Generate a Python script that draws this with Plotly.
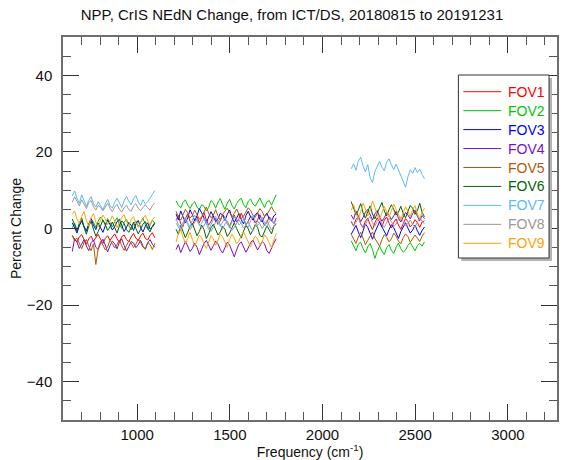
import numpy as np
import plotly.graph_objects as go

# CrIS spectral bands (cm^-1): LW, MW, SW
band_edges = {"LW": (650.0, 1095.0), "MW": (1210.0, 1750.0), "SW": (2155.0, 2550.0)}

fov_names = ["FOV1", "FOV2", "FOV3", "FOV4", "FOV5", "FOV6", "FOV7", "FOV8", "FOV9"]
fov_colors = ["#ff0000", "#00c800", "#0000ff", "#7a10c0", "#b35a00",
              "#006400", "#5cb8ff", "#999999", "#ffa500"]

# Percent change of NEdN per FOV, per band
lw = {
    "FOV1": [-1.8,-2.9,-3.5,-2.2,-1.6,-3.0,-4.1,-2.7,-2.0,-3.3,-2.4,-1.5,-2.8,-3.9,-2.6,-1.9,-3.1,-2.3,-1.4,-2.7,-3.6,-2.1,-1.7,-2.9,-3.4,-2.2,-1.3,-2.5,-3.2,-1.9,-1.2,-2.6,-3.0,-1.8,-1.1,-2.4],
    "FOV2": [0.2,1.4,-0.5,0.8,2.1,0.6,-0.8,1.2,2.5,1.7,0.3,1.9,3.0,2.2,0.9,2.6,1.5,0.4,1.8,2.8,1.1,0.0,1.6,2.4,0.7,-0.4,1.3,2.0,0.5,1.5,2.7,1.0,-0.2,0.9,2.2,1.4],
    "FOV3": [1.5,0.2,-1.2,0.8,2.0,0.4,-0.6,1.1,2.6,0.9,-0.3,1.4,0.1,-1.0,0.7,2.2,1.0,-0.4,0.5,1.8,2.4,0.6,-0.8,0.3,1.6,0.8,-0.5,1.2,2.1,0.2,-0.9,0.6,1.5,-0.2,0.4,1.3],
    "FOV4": [-6.0,-2.6,-3.5,-5.2,-4.1,-2.9,-4.6,-5.8,-3.7,-3.0,-4.9,-5.5,-3.9,-2.8,-4.3,-6.1,-4.5,-3.3,-4.0,-5.3,-3.6,-2.7,-4.4,-5.9,-4.7,-3.4,-3.8,-5.0,-4.2,-3.1,-4.6,-5.4,-3.8,-2.9,-4.1,-4.9],
    "FOV5": [-1.8,-3.2,-2.5,-4.1,-5.3,-3.6,-2.9,-4.6,-5.8,-4.0,-9.4,-5.2,-3.4,-4.3,-5.6,-4.8,-3.1,-3.9,-5.1,-4.2,-3.0,-4.5,-5.7,-4.4,-3.3,-3.8,-5.0,-4.1,-2.8,-3.7,-4.9,-5.4,-3.6,-4.2,-5.5,-3.9],
    "FOV6": [2.5,0.8,-0.6,1.4,2.8,0.3,-1.5,0.6,1.9,-0.2,-2.0,-0.8,0.9,2.2,1.1,-0.5,0.4,1.7,0.2,-1.2,0.7,2.0,1.3,-0.3,-1.0,0.5,1.6,0.0,-1.4,-0.2,1.2,1.8,0.1,-0.9,0.6,1.5],
    "FOV7": [8.5,9.8,7.9,6.6,8.8,7.2,5.8,7.4,8.3,6.5,5.6,7.0,6.1,4.9,6.4,7.6,6.0,5.3,6.8,7.9,6.7,5.5,7.2,8.4,7.1,6.2,7.8,8.6,6.9,6.0,7.5,6.4,7.0,8.1,8.9,9.9],
    "FOV8": [6.8,8.3,7.1,5.9,7.5,6.4,5.2,6.8,7.3,5.7,4.8,6.0,5.5,4.6,5.8,6.6,5.3,4.4,5.6,6.3,5.0,4.3,5.4,6.1,4.9,4.5,5.9,6.5,5.2,4.7,5.5,6.2,5.4,4.8,6.0,6.7],
    "FOV9": [3.8,4.6,2.5,1.3,3.2,4.4,2.1,0.6,2.8,3.9,1.7,0.4,2.2,3.5,2.6,1.0,1.9,3.3,2.0,0.2,1.5,2.9,3.6,1.8,0.7,2.4,3.1,1.4,0.3,1.6,2.7,3.4,1.9,0.8,2.3,3.0],
}
mw = {
    "FOV1": [2.1,3.4,1.2,0.5,2.6,3.8,1.9,0.8,2.4,3.1,1.5,2.9,4.2,2.2,0.9,1.8,3.3,2.5,1.1,2.0,3.7,2.8,1.3,0.6,2.3,3.5,1.7,2.6,4.0,2.4,1.0,1.9,3.2,2.7,1.4,2.2,3.6,2.0,0.8,1.6,3.0,2.5,1.2,2.8],
    "FOV2": [7.2,6.0,5.4,6.8,7.5,6.1,5.2,6.4,7.0,5.6,4.9,6.2,5.8,4.6,5.5,7.3,6.7,5.3,6.9,7.8,6.3,5.0,6.6,7.6,6.0,5.1,6.5,7.4,7.9,6.2,5.4,7.1,7.7,6.4,5.8,7.0,8.0,6.6,5.5,6.9,7.3,6.1,7.6,8.8],
    "FOV3": [3.8,2.2,4.6,3.1,1.5,2.8,4.9,3.6,2.0,3.3,5.2,4.1,2.6,1.4,3.0,4.4,3.2,1.8,2.5,4.0,3.5,2.1,3.7,4.8,2.9,1.6,2.7,3.9,2.3,1.2,3.4,4.5,3.0,2.2,3.6,4.2,2.4,1.7,3.1,4.0,2.6,1.9,3.3,3.8],
    "FOV4": [-5.5,-4.2,-6.3,-5.0,-3.4,-4.6,-6.0,-5.2,-3.8,-4.9,-6.8,-5.4,-3.9,-3.1,-4.4,-5.7,-4.5,-3.3,-4.0,-5.5,-6.4,-4.8,-3.6,-4.3,-5.9,-7.4,-5.6,-4.1,-3.5,-4.7,-6.2,-5.1,-3.7,-3.0,-4.2,-5.6,-4.6,-3.4,-4.0,-5.8,-6.5,-5.0,-3.8,-2.7],
    "FOV5": [4.5,3.0,2.2,3.8,5.0,4.1,2.7,3.4,4.8,3.6,2.4,3.1,4.4,5.6,4.0,2.8,3.5,4.9,3.3,2.1,3.7,4.6,5.3,4.2,3.0,3.9,5.1,3.8,2.6,3.2,4.3,5.4,4.7,3.5,2.9,4.0,5.2,4.4,3.1,3.6,4.8,5.7,4.5,3.9],
    "FOV6": [-0.2,-1.5,0.8,-0.6,-2.4,-1.0,0.5,1.3,-0.4,-1.9,-0.8,0.9,-0.3,-2.6,-1.4,0.2,1.1,-0.5,-1.7,-0.9,0.6,-0.2,-2.1,-1.2,0.4,1.5,0.0,-1.3,-2.5,-0.7,0.8,-0.1,-1.6,-0.4,1.0,0.3,-1.8,-2.2,-0.6,0.7,-0.3,-1.4,0.5,1.2],
    "FOV7": [2.5,1.0,0.2,1.8,3.0,1.6,0.4,2.2,3.5,2.0,0.8,1.4,2.7,1.2,-0.3,1.0,2.4,3.2,1.5,0.6,1.9,2.8,1.3,0.1,1.7,3.1,2.3,0.9,1.5,2.6,1.1,0.3,2.0,3.4,2.1,0.7,1.6,2.9,1.4,0.5,1.8,2.5,1.2,2.2],
    "FOV8": [1.4,0.2,-0.6,0.9,2.1,1.0,-0.3,0.7,1.8,2.5,1.1,0.0,0.8,1.9,0.5,-0.8,0.4,1.6,2.2,0.9,-0.2,1.2,2.0,0.6,-0.5,0.3,1.5,2.3,1.3,0.1,0.9,1.7,0.4,-0.7,0.6,1.9,1.2,0.0,1.0,2.1,0.8,-0.4,0.7,1.4],
    "FOV9": [-3.5,-1.2,-0.4,-2.1,-3.9,-2.6,-1.0,-2.8,-4.6,-3.2,-1.7,-2.4,-4.1,-5.2,-3.4,-1.9,-2.7,-4.4,-3.0,-1.4,-2.2,-3.8,-4.9,-2.9,-1.5,-2.5,-4.0,-3.3,-1.8,-0.9,-2.3,-3.6,-4.8,-3.1,-2.0,-2.7,-4.3,-3.5,-1.6,-2.4,-3.9,-5.1,-3.0,-1.3],
}
sw = {
    "FOV1": [1.8,0.6,2.4,3.1,1.2,0.2,1.9,2.7,1.0,-0.3,1.5,2.8,1.7,0.5,2.2,3.0,1.4,0.1,1.6,2.5,0.9,-0.2,1.3,2.6,1.8,0.4,1.1,2.3,1.5,0.3,1.7,2.0],
    "FOV2": [-3.2,-4.5,-5.8,-4.1,-3.6,-5.2,-6.4,-4.8,-3.9,-5.5,-7.8,-6.0,-4.6,-5.9,-6.8,-5.0,-4.2,-5.7,-6.5,-4.9,-3.8,-5.3,-6.2,-5.6,-4.4,-3.7,-4.9,-5.8,-4.5,-3.9,-4.6,-3.5],
    "FOV3": [-1.5,-0.2,0.8,-0.9,-2.4,-0.6,1.2,0.3,-1.1,-2.8,-1.0,0.6,1.8,0.4,-0.7,-1.9,-0.3,1.0,0.2,-1.3,-2.6,-0.8,0.5,1.5,0.1,-1.2,-0.4,0.9,-0.6,-1.8,-0.5,0.4],
    "FOV4": [3.5,2.4,4.6,3.2,1.8,2.9,4.3,5.0,3.4,2.2,3.8,4.7,3.1,1.9,2.8,4.1,3.6,2.3,3.3,4.5,2.7,1.7,3.0,4.2,3.5,2.5,3.9,4.8,3.2,2.0,3.4,2.6],
    "FOV5": [-1.5,-2.8,-3.9,-2.2,-1.0,-2.5,-4.2,-3.1,-1.8,-0.9,-2.6,-3.8,-4.6,-2.9,-1.6,-2.3,-3.5,-2.7,-1.2,-2.0,-3.3,-4.0,-2.4,-1.4,-2.1,-3.6,-2.8,-1.7,-2.5,-3.4,-2.0,-1.1],
    "FOV6": [7.0,5.2,3.6,4.8,6.5,4.1,2.7,4.4,5.9,3.8,2.5,4.0,5.6,6.8,4.6,3.3,4.9,6.2,5.0,3.5,4.3,5.8,3.9,2.8,4.5,6.0,5.3,3.7,4.7,6.6,4.2,3.1],
    "FOV7": [15.6,16.9,15.2,17.6,18.6,16.3,14.8,16.7,13.2,12.0,14.9,16.4,17.5,16.0,15.1,17.3,18.2,16.6,15.4,16.8,15.2,14.0,12.3,10.8,13.5,15.3,14.4,15.9,14.6,15.5,14.1,13.0],
    "FOV8": [2.0,0.8,1.6,2.9,1.3,0.2,1.0,2.4,3.2,1.5,0.6,1.9,2.6,1.1,0.3,1.4,2.7,1.8,0.5,1.2,2.5,3.0,1.7,0.7,1.3,2.2,1.0,0.4,1.6,2.8,1.9,1.2],
    "FOV9": [4.8,6.2,3.9,2.5,4.4,6.6,5.1,3.3,4.7,7.2,5.5,3.6,2.4,4.0,5.8,4.3,3.0,4.6,6.4,5.0,3.4,2.2,4.1,5.7,4.5,3.1,4.9,6.0,3.8,2.6,4.2,5.3],
}

x_range = [600, 3265]
y_range = [-50, 50]
x_ticks = [1000, 1500, 2000, 2500, 3000]
y_ticks = [-40, -20, 0, 20, 40]

FONT = "Liberation Sans, Arial, Helvetica, sans-serif"
AXIS_GRAY = "#6e6e6e"
TEXT = "#111111"


def band_x(name, values):
    lo, hi = band_edges[name]
    return list(np.linspace(lo, hi, len(values)))


fig = go.Figure()
for name, color in zip(fov_names, fov_colors):
    xs, ys = [], []
    for band, table in (("LW", lw), ("MW", mw), ("SW", sw)):
        vals = table[name]
        xs += band_x(band, vals) + [None]
        ys += vals + [None]
    fig.add_trace(go.Scatter(
        x=xs, y=ys, mode="lines", name=name,
        line=dict(color=color, width=1),
        connectgaps=False, showlegend=False,
    ))

W, H = 561, 460
ML, MR, MT, MB = 63, 2, 37, 40
pw, ph = W - ML - MR, H - MT - MB


def px(xp):
    return (xp - ML) / pw


def py(yp):
    return (H - MB - yp) / ph


# Boxed key at upper right: shadow, frame, then one sample line + label per FOV
box_l, box_t, box_r, box_b = 460, 75, 551, 258
fig.add_shape(type="rect", xref="paper", yref="paper",
              x0=px(box_l + 3), x1=px(box_r + 3), y0=py(box_b + 3), y1=py(box_t + 3),
              line=dict(width=0), fillcolor="#b4b4b4", layer="above")
fig.add_shape(type="rect", xref="paper", yref="paper",
              x0=px(box_l), x1=px(box_r), y0=py(box_b), y1=py(box_t),
              line=dict(width=1, color="#333333"), fillcolor="white", layer="above")

row0, row_step = 91.7, 18.95
for i, (name, color) in enumerate(zip(fov_names, fov_colors)):
    yc = row0 + i * row_step
    fig.add_shape(type="line", xref="paper", yref="paper",
                  x0=px(465), x1=px(503), y0=py(yc), y1=py(yc),
                  line=dict(color=color, width=1), layer="above")
    fig.add_annotation(xref="paper", yref="paper", x=px(508), y=py(yc),
                       xanchor="left", yanchor="middle", showarrow=False,
                       text=name, font=dict(family=FONT, size=14, color=color))

axis_common = dict(
    showgrid=False, zeroline=False,
    showline=True, linecolor=AXIS_GRAY, linewidth=1.5,
    mirror="ticks", ticks="inside", ticklen=16, tickwidth=1, tickcolor="#333333",
    tickfont=dict(family=FONT, size=15, color=TEXT),
)

fig.update_xaxes(
    range=x_range, tickvals=x_ticks, ticklabelstandoff=0,
    minor=dict(dtick=100, tick0=600, ticks="inside", ticklen=8, tickcolor="#555555", tickwidth=1),
    title=dict(text="Frequency (cm<sup>-1</sup>)", font=dict(family=FONT, size=14, color=TEXT), standoff=4),
    **axis_common,
)
fig.update_yaxes(
    range=y_range, tickvals=y_ticks, ticklabelstandoff=6,
    minor=dict(dtick=5, tick0=0, ticks="inside", ticklen=8, tickcolor="#555555", tickwidth=1),
    title=dict(text="Percent Change", font=dict(family=FONT, size=14, color=TEXT), standoff=2),
    **axis_common,
)

fig.update_layout(
    width=W, height=H, autosize=False,
    margin=dict(l=ML, r=MR, t=MT, b=MB, pad=0),
    paper_bgcolor="white", plot_bgcolor="white",
    font=dict(family=FONT, size=14, color=TEXT),
    title=dict(text="NPP, CrIS NEdN Change, from ICT/DS, 20180815 to 20191231",
               x=292 / W, xanchor="center", y=1 - 15 / H, yanchor="middle",
               font=dict(family=FONT, size=15, color=TEXT)),
    showlegend=False,
)

fig.write_html("out.html")
